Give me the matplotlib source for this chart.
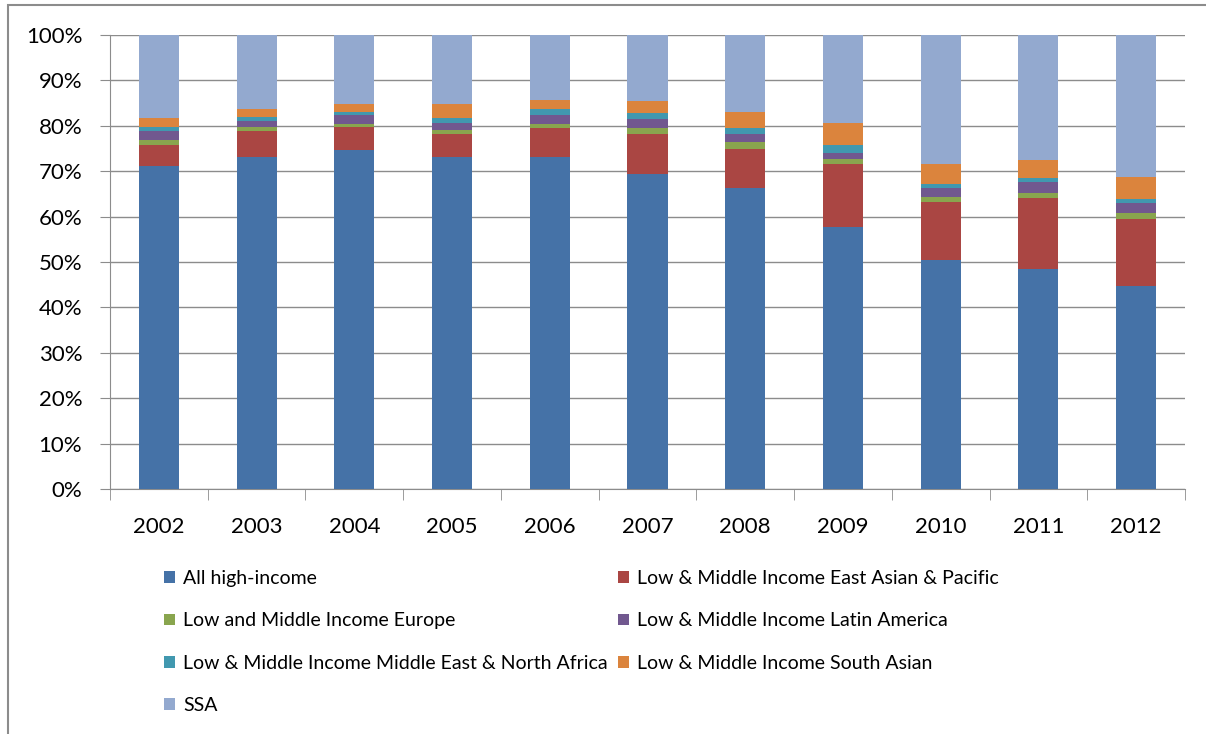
import numpy as np
import matplotlib.pyplot as plt
from matplotlib.patches import Rectangle, Patch

years = ['2002', '2003', '2004', '2005', '2006', '2007', '2008', '2009', '2010', '2011', '2012']

# shares (%) per region
high_income = [71.2, 73.2, 74.7, 73.2, 73.2, 69.3, 66.4, 57.7, 50.4, 48.4, 44.8]
east_asia = [4.6, 5.7, 5.0, 5.1, 6.3, 9.0, 8.6, 13.9, 12.8, 15.8, 14.6]
europe = [1.1, 0.8, 0.8, 0.8, 1.0, 1.2, 1.4, 1.1, 1.2, 1.1, 1.4]
latin_america = [2.0, 1.4, 1.8, 1.5, 1.8, 1.9, 1.9, 1.4, 1.8, 2.3, 2.3]
mena = [0.8, 0.9, 0.8, 1.2, 1.4, 1.5, 1.2, 1.7, 0.9, 0.9, 0.8]
south_asia = [2.1, 1.7, 1.8, 3.1, 2.0, 2.5, 3.6, 4.8, 4.5, 3.9, 4.8]
ssa = [18.2, 16.3, 15.1, 15.1, 14.3, 14.6, 16.9, 19.4, 28.4, 27.6, 31.3]

labels = ['All high-income',
          'Low & Middle Income East Asian & Pacific',
          'Low and Middle Income Europe',
          'Low & Middle Income Latin America',
          'Low & Middle Income Middle East & North Africa',
          'Low & Middle Income South Asian',
          'SSA']
series = [high_income, east_asia, europe, latin_america, mena, south_asia, ssa]
colors = ['#4572A7', '#AA4643', '#89A54E', '#71588F', '#4198AF', '#DB843D', '#93A9CF']

plt.rcParams['font.family'] = ['Lato', 'DejaVu Sans']
grid_col = '#8c8c8c'

W, H = 1206, 734
fig = plt.figure(figsize=(W / 100, H / 100), dpi=100)
ax = fig.add_axes([110 / W, 1 - 489 / H, (1185 - 110) / W, (489 - 35) / H])

x = np.arange(len(years))
bottom = np.zeros(len(years))
for vals, c, lab in zip(series, colors, labels):
    v = np.array(vals)
    ax.bar(x, v, 0.41, bottom=bottom, color=c, label=lab, zorder=3)
    bottom += v

ax.set_xlim(-0.5, len(years) - 0.5)
ax.set_ylim(0, 100)
ax.set_yticks(np.arange(0, 101, 10))
ax.set_yticklabels([f'{t}%' for t in range(0, 101, 10)], fontsize=16)
ax.set_xticks(x)
ax.set_xticklabels(years, fontsize=16)
ax.set_xticks(np.arange(-0.5, len(years)), minor=True)
ax.tick_params(axis='x', which='major', length=0, pad=20)
ax.tick_params(axis='x', which='minor', length=8, color=grid_col)
ax.tick_params(axis='y', length=7, color=grid_col, pad=13)
ax.yaxis.grid(True, color=grid_col, linewidth=1)
ax.set_axisbelow(True)
for s in ['top', 'right']:
    ax.spines[s].set_visible(False)
for s in ['left', 'bottom']:
    ax.spines[s].set_color(grid_col)

# legend laid out in two columns, row-wise like the original
def make_handles(idx):
    return [Patch(facecolor=colors[i], edgecolor='none') for i in idx], [labels[i] for i in idx]

for idx, xpos in [([0, 2, 4, 6], 164), ([1, 3, 5], 618)]:
    h, l = make_handles(idx)
    fig.legend(h, l, loc='upper left', bbox_to_anchor=(xpos / W, 1 - 570 / H),
               frameon=False, fontsize=14, handlelength=0.55, handleheight=0.55,
               handletextpad=0.45, labelspacing=1.3, borderaxespad=0, borderpad=0)

# outer chart border
fig.patches.append(Rectangle((8 / W, -0.1), 1.2, 1 - 5 / H + 0.1,
                             transform=fig.transFigure, fill=False,
                             edgecolor='#8c8c8c', linewidth=1.5))

fig.savefig('out.png', dpi=100)
